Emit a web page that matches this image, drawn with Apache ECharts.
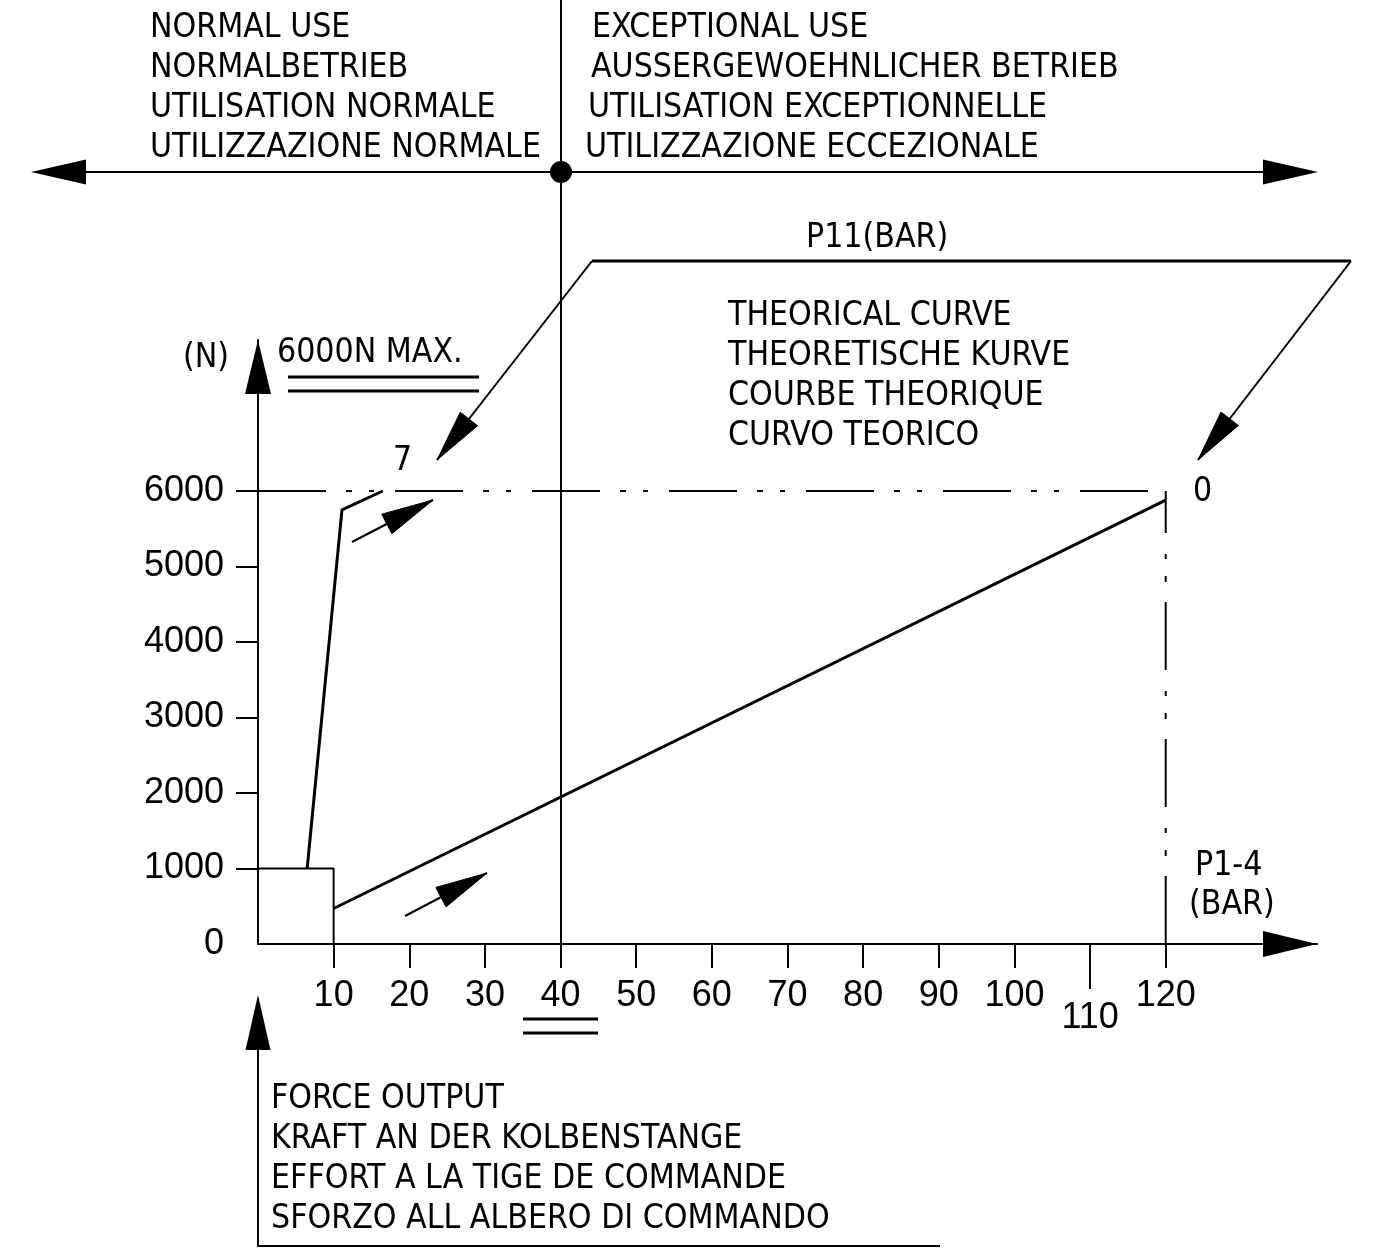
<!DOCTYPE html>
<html><head><meta charset="utf-8">
<script src="https://cdn.jsdelivr.net/npm/echarts@6/dist/echarts.min.js"></script>
<style>html,body{margin:0;padding:0;background:#fff}#c{width:1399px;height:1258px}</style>
</head><body><div id="c"></div>
<script>
// ---- data ----
const xTicks = [10, 20, 30, 40, 50, 60, 70, 80, 90, 100, 110, 120];
const yTicks = [1000, 2000, 3000, 4000, 5000, 6000];
const yLabels = [0, 1000, 2000, 3000, 4000, 5000, 6000];
const p11Curve = [[6.5, 1000], [11.1, 5750], [16.5, 6000]];
const p14Curve = [[10, 470], [120, 5880]];
const normalBox = [[0, 1000], [10, 1000], [10, 0]];
const maxForceLine = [[0, 6000], [120, 6000]];
const maxPressureLine = [[120, 0], [120, 6000]];

const topLeftText = ['NORMAL USE', 'NORMALBETRIEB', 'UTILISATION NORMALE', 'UTILIZZAZIONE NORMALE'];
const topRightText = ['EXCEPTIONAL USE', 'AUSSERGEWOEHNLICHER BETRIEB', 'UTILISATION EXCEPTIONNELLE', 'UTILIZZAZIONE ECCEZIONALE'];
const theoryText = ['THEORICAL CURVE', 'THEORETISCHE KURVE', 'COURBE THEORIQUE', 'CURVO TEORICO'];
const forceText = ['FORCE OUTPUT', 'KRAFT AN DER KOLBENSTANGE', 'EFFORT A LA TIGE DE COMMANDE', 'SFORZO ALL ALBERO DI COMMANDO'];

// ---- styles ----
const INK = '#000';
const TXT = '33.5px "Liberation Sans Narrow", "DejaVu Sans Condensed", sans-serif';
const NUMFONT = '"Liberation Sans", "DejaVu Sans", sans-serif';

function text(t, x, y) {
  return { type: 'text', x: x, y: y + 1, style: { text: t, font: TXT, fill: INK, align: 'left', verticalAlign: 'middle' } };
}
function seg(x1, y1, x2, y2, w) {
  return { type: 'line', shape: { x1, y1, x2, y2 }, style: { stroke: INK, lineWidth: w || 2 } };
}
function poly(points, w) {
  return { type: 'polyline', shape: { points }, style: { stroke: INK, lineWidth: w || 2, fill: null } };
}
function head(tip, tail, L, w) {
  const dx = tip[0] - tail[0], dy = tip[1] - tail[1];
  const len = Math.hypot(dx, dy), ux = dx / len, uy = dy / len;
  const bx = tip[0] - ux * L, by = tip[1] - uy * L, nx = -uy, ny = ux;
  return { type: 'polygon', shape: { points: [tip, [bx + nx * w, by + ny * w], [bx - nx * w, by - ny * w]] }, style: { fill: INK, stroke: INK, lineWidth: 1 } };
}
function arrow(tail, tip, L, w, lw) {
  return [seg(tail[0], tail[1], tip[0], tip[1], lw || 2), head(tip, tail, L, w)];
}

const g = [];
topLeftText.forEach((t, i) => g.push(text(t, 150, 27 + 40 * i)));
[592, 591, 588, 585].forEach((x, i) => g.push(text(topRightText[i], x, 27 + 40 * i)));
theoryText.forEach((t, i) => g.push(text(t, 728, 315 + 40 * i)));
forceText.forEach((t, i) => g.push(text(t, 271, 1098 + 40 * i)));
g.push(text('P11(BAR)', 806, 237));
g.push(text('(N)', 183, 357));
g.push(text('6000N MAX.', 277, 352));
g.push(text('7', 393, 460));
g.push(text('0', 1193, 491));
g.push(text('P1-4', 1195, 865));
g.push(text('(BAR)', 1189, 904));

// top use-range axis
g.push(seg(86, 172, 1263, 172, 2));
g.push({ type: 'polygon', shape: { points: [[31, 172], [86, 159.5], [86, 184.5]] }, style: { fill: INK } });
g.push({ type: 'polygon', shape: { points: [[1318, 172], [1263, 159.5], [1263, 184.5]] }, style: { fill: INK } });
g.push(seg(561, 0, 561, 967, 2));
g.push({ type: 'circle', shape: { cx: 561, cy: 172, r: 11 }, style: { fill: INK } });

// P11 leader
g.push(seg(592, 261, 1351, 261, 3));
g.push(...arrow([592, 261], [437, 460], 52, 11));
g.push(...arrow([1351, 261], [1198, 460], 52, 11));

// direction arrows
g.push(...arrow([352, 542], [433, 500], 52, 11));
g.push(...arrow([405, 916], [487, 873], 52, 11));

// double underlines
g.push(seg(288, 377, 479, 377, 3), seg(288, 391, 479, 391, 3));
g.push(seg(523, 1019, 598, 1019, 3), seg(523, 1033, 598, 1033, 3));

// longer tick at 110
g.push(seg(1090, 967, 1090, 989, 2));

// bottom force bracket
g.push({ type: 'polygon', shape: { points: [[258, 995], [245.5, 1050], [270.5, 1050]] }, style: { fill: INK } });
g.push(poly([[258, 1050], [258, 1246], [940, 1246]], 2));

const chart = echarts.init(document.getElementById('c'), null, { renderer: 'canvas' });
const lineSeries = (data, w, type) => ({
  type: 'line', data: data, showSymbol: false, symbol: 'none', animation: false, silent: true,
  lineStyle: { color: INK, width: w, type: type || 'solid' }
});
const dashDot = [68, 20, 6, 17, 5, 21];

chart.setOption({
  backgroundColor: '#fff',
  animation: false,
  grid: { left: 258, right: 82, top: 340, bottom: 314, containLabel: false, outerBoundsMode: 'none' },
  xAxis: {
    type: 'value', min: 0, max: 140, interval: 10,
    splitLine: { show: false },
    axisLine: { show: true, onZero: false, symbol: ['none', 'triangle'], symbolSize: [26, 54], symbolOffset: [0, -27], lineStyle: { color: INK, width: 2 } },
    axisTick: { show: true, customValues: xTicks, length: 24, inside: false, lineStyle: { color: INK, width: 2 } },
    axisLabel: {
      customValues: xTicks, margin: 34, color: INK, fontSize: 36, fontFamily: NUMFONT,
      formatter: v => (v === 0 || v > 120) ? '' : (v === 110 ? '{low|110}' : String(v)),
      rich: { low: { padding: [22, 0, 0, 0], fontSize: 36, fontFamily: NUMFONT, color: INK } }
    }
  },
  yAxis: {
    type: 'value', min: 0, max: 8000, interval: 1000,
    splitLine: { show: false },
    axisLine: { show: true, onZero: false, symbol: ['none', 'triangle'], symbolSize: [26, 54], symbolOffset: [0, -27], lineStyle: { color: INK, width: 2 } },
    axisTick: { show: true, customValues: yTicks, length: 22, inside: false, lineStyle: { color: INK, width: 2 } },
    axisLabel: {
      customValues: yLabels, margin: 34, color: INK, fontSize: 36, fontFamily: NUMFONT,
      formatter: v => v > 6000 ? '' : String(v)
    }
  },
  series: [
    lineSeries(normalBox, 2),
    lineSeries(maxForceLine, 2, dashDot),
    lineSeries(maxPressureLine, 2, dashDot),
    lineSeries(p11Curve, 3),
    lineSeries(p14Curve, 3)
  ],
  graphic: g
});
</script></body></html>
